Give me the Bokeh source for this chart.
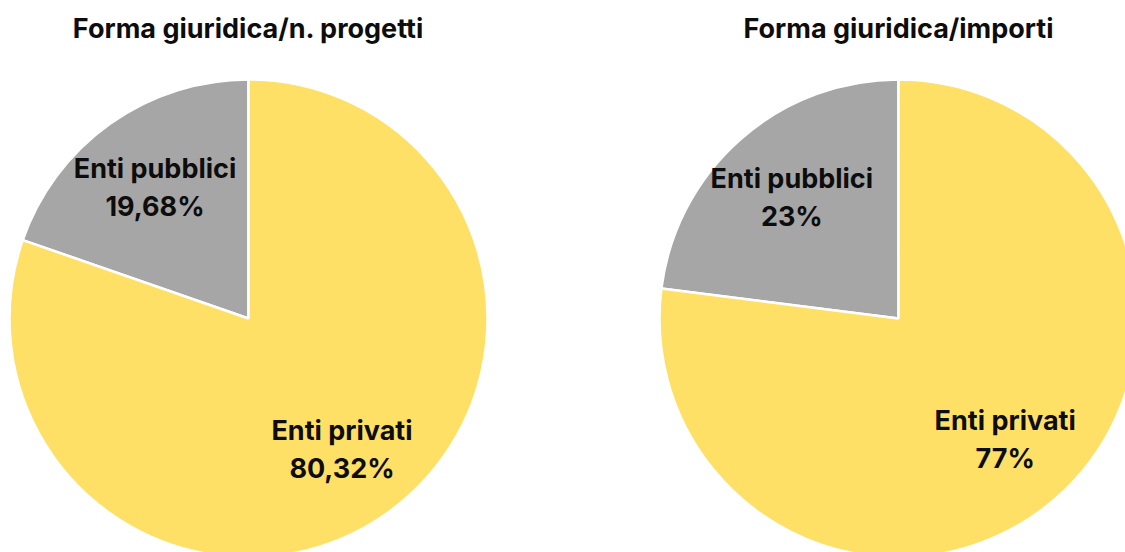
import numpy as np
from bokeh.plotting import figure
from bokeh.models import ColumnDataSource, Range1d
from bokeh.core.properties import value
from bokeh.embed import file_html
from bokeh.resources import INLINE

# ---- data ----
categories = ["Enti pubblici", "Enti privati"]
titles = ["Forma giuridica/n. progetti", "Forma giuridica/importi"]
progetti_pct = [19.68, 80.32]
importi_pct = [23, 77]
colors = ["#A6A6A6", "#FFE066"]

W, H = 1125, 552
FONT = "Inter"

p = figure(width=W, height=H, x_range=Range1d(0, W), y_range=Range1d(0, H),
           output_backend="svg", toolbar_location=None, min_border=0)
p.axis.visible = False
p.grid.visible = False
p.outline_line_color = None
p.background_fill_color = "white"

R = 239
centers = [(248, 234), (898, 234)]

def fmt(v):
    s = f"{v:.2f}".rstrip("0").rstrip(".")
    return s.replace(".", ",") + "%"

for (cx, cy), vals, title in zip(centers, [progetti_pct, importi_pct], titles):
    v = np.array(vals, dtype=float)
    frac = v / v.sum()
    ends = np.pi / 2 + np.cumsum(frac) * 2 * np.pi
    starts = np.concatenate([[np.pi / 2], ends[:-1]])
    mids = (starts + ends) / 2
    src = ColumnDataSource(dict(x=[cx] * len(v), y=[cy] * len(v), s=starts, e=ends, c=colors))
    p.wedge(x="x", y="y", radius=R, start_angle="s", end_angle="e",
            fill_color="c", line_color="white", line_width=2.5, source=src)
    d = 0.675 * R
    lx = cx + d * np.cos(mids)
    ly = cy + d * np.sin(mids)
    lab = ColumnDataSource(dict(x=list(lx) + list(lx), y=list(ly + 19) + list(ly - 19),
                                t=categories + [fmt(x) for x in vals]))
    p.text(x="x", y="y", text="t", source=lab, text_font=value(FONT), text_font_style="bold",
           text_font_size="27px", text_align="center", text_baseline="middle", text_color="#0d0d0d")
    p.text(x=[cx], y=[H - 28], text=[title], text_font=value(FONT), text_font_style="bold",
           text_font_size="27px", text_align="center", text_baseline="middle", text_color="#0d0d0d")

open("out.html", "w").write(file_html(p, INLINE))
